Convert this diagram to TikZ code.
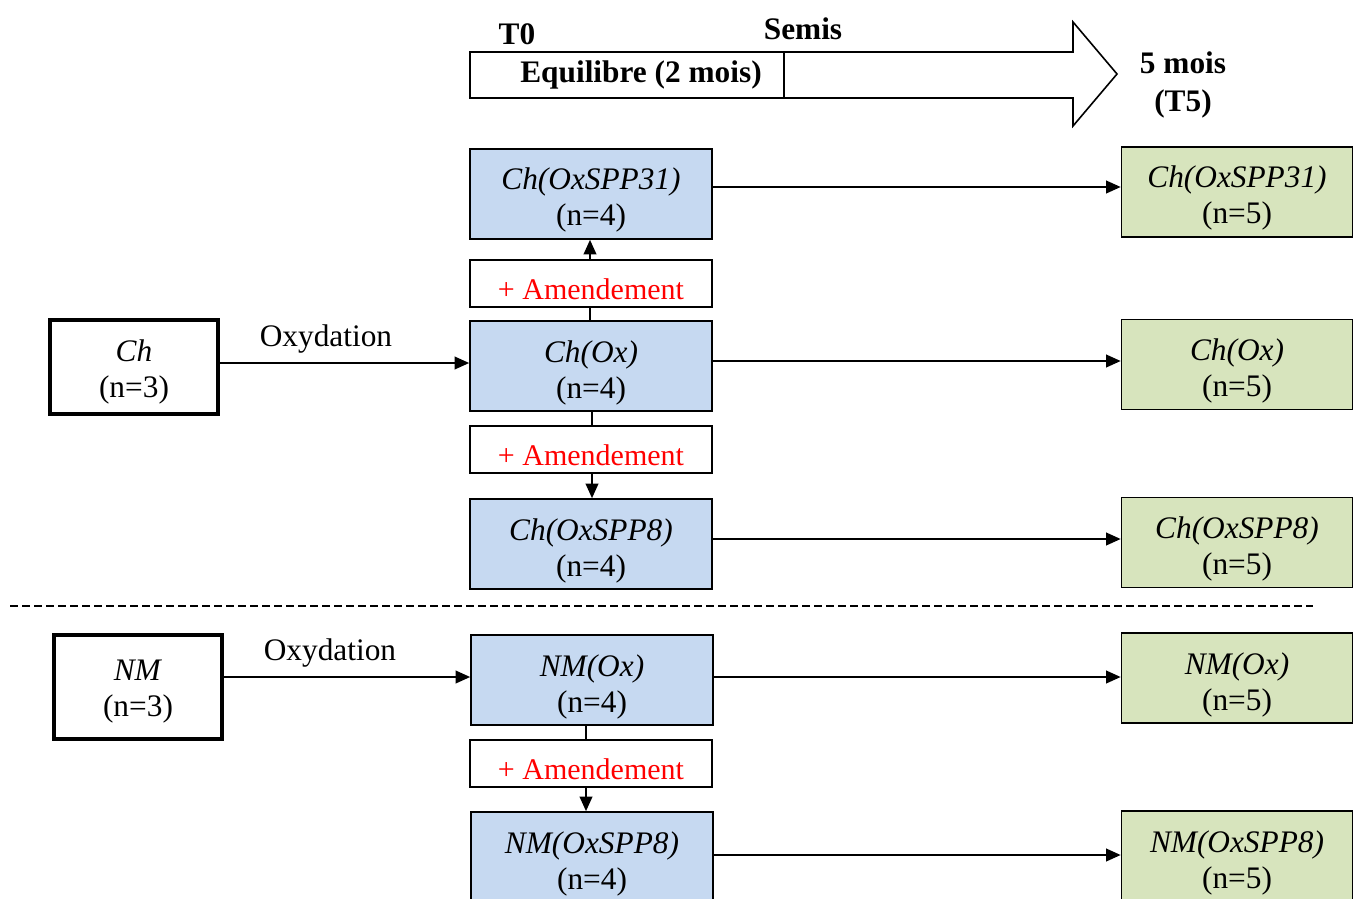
\documentclass[tikz,border=0pt]{standalone}
\usepackage{fontspec}
\setmainfont{Liberation Serif}
\usetikzlibrary{arrows.meta}
\definecolor{boxblue}{RGB}{198,217,241}
\definecolor{boxgreen}{RGB}{215,228,189}
\newcommand{\topgap}[1]{\rule{0pt}{#1}}
\begin{document}
\begin{tikzpicture}[x=0.75pt,y=-0.75pt,
  every node/.style={font=\fontsize{23.5}{27}\selectfont, align=center, inner sep=0pt},
  bluebox/.style={draw, fill=boxblue, line width=1.2pt, minimum width=181.5pt, minimum height=67.5pt},
  greenbox/.style={draw, fill=boxgreen, line width=1.2pt, minimum width=173.25pt, minimum height=67.5pt},
  amendbox/.style={draw, fill=white, line width=1.2pt, minimum width=181.5pt, minimum height=35.25pt, text=red, font=\fontsize{22.5}{27}\selectfont},
  srcbox/.style={draw, line width=3.6pt, minimum width=126pt},
  flow/.style={line width=1.5pt, -{Triangle[length=11pt,width=9.5pt]}},
  lbl/.style={font=\fontsize{23.5}{28.5}\selectfont\bfseries}
]
\useasboundingbox (0,0) rectangle (1353,899);
\clip (0,0) rectangle (1353,899);

% timeline arrow
\coordinate (ta) at (470,52);
\draw[line width=1.2pt, fill=white] (ta) -- (1073,52) -- (1073,22) -- (1117,74) -- (1073,126) -- (1073,98) -- (470,98) -- cycle;
\coordinate (dv1) at (784,52);
\coordinate (dv2) at (784,98);
\draw[line width=1.2pt] (dv1) -- (dv2);
\node[lbl] (t0) at (517,34) {T0};
\node[lbl] (semis) at (803,29) {Semis};
\node[lbl] (equi) at (641,75) {Equilibre (2 mois)};
\node[lbl] (t5) at (1183,85) {5 mois\\(T5)};

% source boxes
\node[srcbox, minimum height=70.5pt] (ch) at (134,367) {\topgap{24pt}\textit{Ch}\\(n=3)};
\node[srcbox, minimum height=78pt] (nm) at (138,687) {\topgap{22pt}\textit{NM}\\(n=3)};

% blue boxes
\node[bluebox] (b31) at (591,194) {\topgap{26pt}\textit{Ch(OxSPP31)}\\(n=4)};
\node[bluebox] (box) at (591,366) {\topgap{26pt}\textit{Ch(Ox)}\\(n=4)};
\node[bluebox] (b8) at (591,544) {\topgap{26pt}\textit{Ch(OxSPP8)}\\(n=4)};
\node[bluebox] (nmox) at (592,680) {\topgap{26pt}\textit{NM(Ox)}\\(n=4)};
\node[bluebox] (nm8) at (592,857) {\topgap{26pt}\textit{NM(OxSPP8)}\\(n=4)};

% green boxes
\node[greenbox] (g31) at (1237,192) {\topgap{26pt}\textit{Ch(OxSPP31)}\\(n=5)};
\node[greenbox] (gox) at (1237,364.5) {\topgap{26pt}\textit{Ch(Ox)}\\(n=5)};
\node[greenbox] (g8) at (1237,542.5) {\topgap{26pt}\textit{Ch(OxSPP8)}\\(n=5)};
\node[greenbox] (gnmox) at (1237,678) {\topgap{26pt}\textit{NM(Ox)}\\(n=5)};
\node[greenbox] (gnm8) at (1237,856) {\topgap{26pt}\textit{NM(OxSPP8)}\\(n=5)};

% vertical connectors (drawn before amendment boxes)
\draw[flow] ([xshift=-0.75pt]box.north) -- ([xshift=-0.75pt]b31.south);
\draw[flow] ([xshift=0.75pt]box.south) -- ([xshift=0.75pt]b8.north);
\draw[flow] ([xshift=-4.5pt]nmox.south) -- ([xshift=-4.5pt]nm8.north);

% amendment boxes
\node[amendbox] (a1) at (591,283.5) {\topgap{24pt}+ Amendement};
\node[amendbox] (a2) at (591,449.5) {\topgap{24pt}+ Amendement};
\node[amendbox] (a3) at (591,763.5) {\topgap{24pt}+ Amendement};

% oxidation arrows
\draw[flow] ([yshift=3pt]ch.east) -- ([yshift=3pt]ch.east -| box.west);
\node (ox1) at (326,339) {Oxydation};
\draw[flow] ([yshift=7.5pt]nm.east) -- ([yshift=7.5pt]nm.east -| nmox.west);
\node (ox2) at (330,653) {Oxydation};

% horizontal arrows to T5
\draw[flow] ([yshift=5.25pt]b31.east) -- ([yshift=5.25pt]b31.east -| g31.west);
\draw[flow] ([yshift=3.75pt]box.east) -- ([yshift=3.75pt]box.east -| gox.west);
\draw[flow] ([yshift=3.75pt]b8.east) -- ([yshift=3.75pt]b8.east -| g8.west);
\draw[flow] ([yshift=2.25pt]nmox.east) -- ([yshift=2.25pt]nmox.east -| gnmox.west);
\draw[flow] ([yshift=1.5pt]nm8.east) -- ([yshift=1.5pt]nm8.east -| gnm8.west);

% separator
\coordinate (s1) at (10,606);
\coordinate (s2) at (1313,606);
\draw[line width=1.5pt, dash pattern=on 6pt off 3pt] (s1) -- (s2);
\end{tikzpicture}
\end{document}
